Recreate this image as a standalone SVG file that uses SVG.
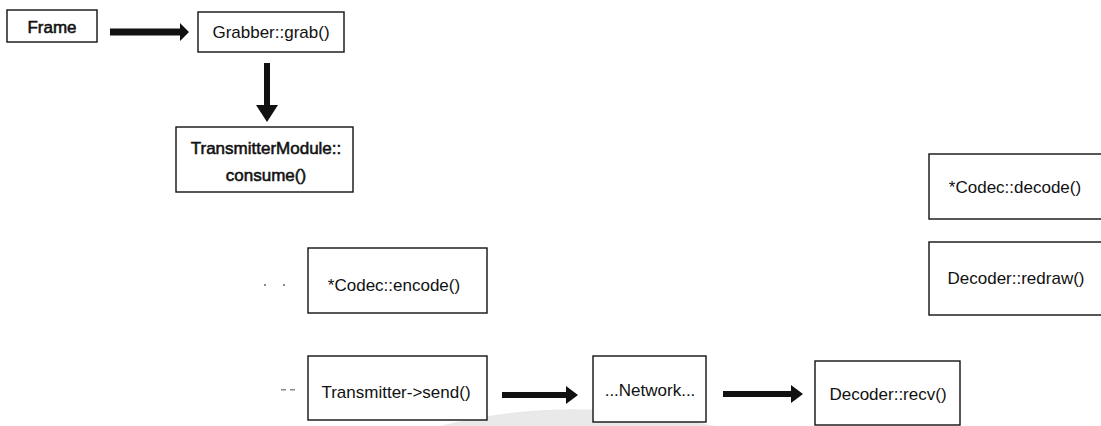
<svg xmlns="http://www.w3.org/2000/svg" width="1101" height="426" viewBox="0 0 1101 426">
  <style>
    .box { fill: #ffffff; stroke: #111111; stroke-width: 1.4; }
    .lbl { font-family: "Liberation Sans", Arial, sans-serif; font-size: 17px; fill: #111111; text-anchor: middle; }
    .heavy { stroke: #111111; stroke-width: 0.55; }
    .arrow { fill: #111111; }
    .speck { fill: #8a8a8a; }
  </style>
  <rect width="1101" height="426" fill="#ffffff"/>

  <!-- faint grey swoosh along the bottom edge -->
  <path d="M 440 426 Q 520 406 600 410 Q 660 413 715 426 Z" fill="#e9e9e9"/>

  <!-- stray specks left of the middle column -->
  <g id="specks">
    <rect class="speck" x="264" y="284" width="2" height="2"/>
    <rect class="speck" x="283" y="284" width="2" height="2"/>
    <rect class="speck" x="281" y="389" width="5" height="1.5"/>
    <rect class="speck" x="290" y="389" width="5" height="1.5"/>
  </g>

  <g id="connectors">
    <!-- Frame -> Grabber::grab() -->
    <path class="arrow" d="M 110 28.5 L 180 28.5 L 180 23 L 189 32 L 180 41 L 180 35.5 L 110 35.5 Z"/>
    <!-- Grabber::grab() -> TransmitterModule::consume() -->
    <path class="arrow" d="M 264 63 L 270 63 L 270 105 L 278 105 L 267 122 L 256 105 L 264 105 Z"/>
    <!-- Transmitter->send() -> ...Network... -->
    <path class="arrow" d="M 502 392 L 566 392 L 566 386 L 578 395 L 566 404 L 566 398 L 502 398 Z"/>
    <!-- ...Network... -> Decoder::recv() -->
    <path class="arrow" d="M 723 391 L 791 391 L 791 385 L 803 394 L 791 403 L 791 397 L 723 397 Z"/>
  </g>

  <g id="frame">
    <rect class="box" x="7" y="10" width="90" height="32"/>
    <text class="lbl heavy" x="52" y="33">Frame</text>
  </g>

  <g id="grabber-grab">
    <rect class="box" x="198" y="12" width="146" height="40"/>
    <text class="lbl" x="271" y="38">Grabber::grab()</text>
  </g>

  <g id="transmittermodule-consume">
    <rect class="box" x="176" y="127" width="177" height="65"/>
    <text class="lbl heavy" x="266" y="154">TransmitterModule::</text>
    <text class="lbl heavy" x="266" y="181">consume()</text>
  </g>

  <g id="codec-encode">
    <rect class="box" x="308" y="248" width="179" height="65"/>
    <text class="lbl" x="394" y="291">*Codec::encode()</text>
  </g>

  <g id="transmitter-send">
    <rect class="box" x="308" y="356" width="179" height="64"/>
    <text class="lbl" x="396" y="398">Transmitter-&gt;send()</text>
  </g>

  <g id="network">
    <rect class="box" x="593" y="356" width="113" height="66"/>
    <text class="lbl" x="650" y="396">...Network...</text>
  </g>

  <g id="decoder-recv">
    <rect class="box" x="815" y="361" width="145" height="64"/>
    <text class="lbl" x="888" y="400">Decoder::recv()</text>
  </g>

  <g id="codec-decode">
    <rect class="box" x="929" y="154" width="190" height="65"/>
    <text class="lbl" x="1015" y="193">*Codec::decode()</text>
  </g>

  <g id="decoder-redraw">
    <rect class="box" x="929" y="242" width="190" height="73"/>
    <text class="lbl" x="1016" y="284">Decoder::redraw()</text>
  </g>
</svg>
